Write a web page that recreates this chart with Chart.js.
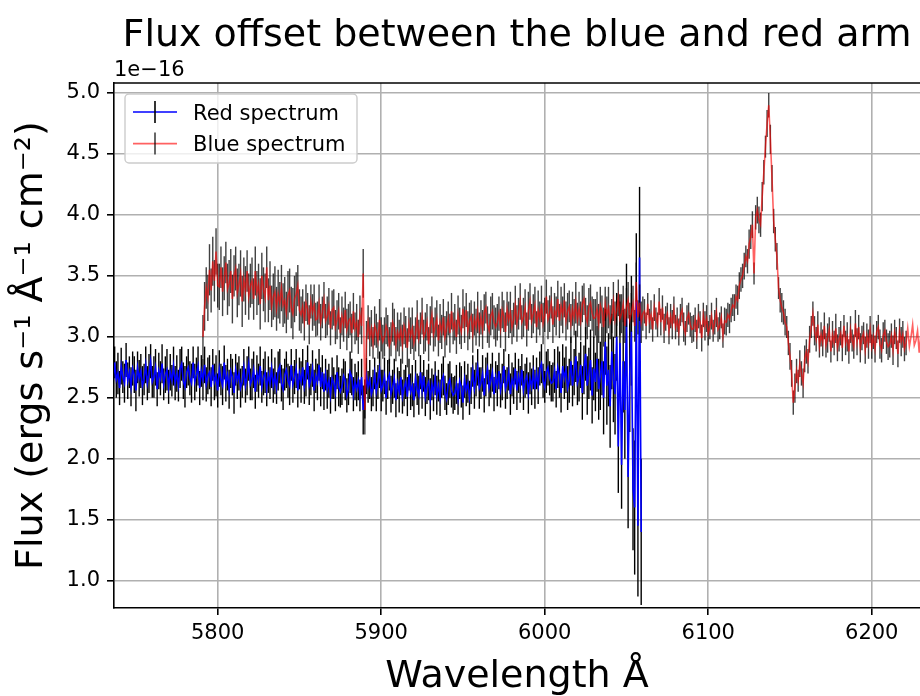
<!DOCTYPE html>
<html>
<head>
<meta charset="utf-8">
<title>Flux offset between the blue and red arm</title>
<script src="https://cdn.jsdelivr.net/npm/chart.js@4.4.1/dist/chart.umd.min.js"></script>
<style>
  html, body { margin: 0; padding: 0; background: #fff; overflow: hidden; }
  #wrap { width: 920px; height: 696px; position: relative; }
</style>
</head>
<body>
<div id="wrap"><canvas id="spectrum"></canvas></div>
<script>
// Both arms are resampled onto a 1 Å wavelength grid
const gridStep = 1;
const redArmStart = 5735;
const blueArmStart = 5791;

// Flux in units of 1e-16 ergs s^-1 Å^-1 cm^-2, ten pixels per row
const redArmFlux = [
  2.73, 2.61, 2.79, 2.65, 2.70, 2.58, 2.76, 2.67, 2.62, 2.81, // 5735
  2.64, 2.71, 2.59, 2.74, 2.69, 2.56, 2.75, 2.66, 2.72, 2.60,
  2.65, 2.77, 2.62, 2.70, 2.80, 2.63, 2.67, 2.75, 2.57, 2.72,
  2.66, 2.78, 2.61, 2.69, 2.73, 2.59, 2.71, 2.64, 2.76, 2.62,
  2.70, 2.60, 2.74, 2.78, 2.64, 2.59, 2.71, 2.75, 2.66, 2.62,
  2.79, 2.63, 2.69, 2.76, 2.58, 2.72, 2.65, 2.77, 2.61, 2.68,
  2.71, 2.59, 2.77, 2.63, 2.68, 2.56, 2.74, 2.65, 2.60, 2.79, // 5795
  2.62, 2.69, 2.57, 2.72, 2.67, 2.54, 2.73, 2.64, 2.70, 2.58,
  2.63, 2.75, 2.60, 2.68, 2.78, 2.61, 2.65, 2.73, 2.55, 2.70,
  2.64, 2.76, 2.59, 2.67, 2.71, 2.57, 2.69, 2.62, 2.74, 2.60,
  2.68, 2.58, 2.72, 2.76, 2.62, 2.57, 2.69, 2.73, 2.64, 2.60,
  2.77, 2.61, 2.67, 2.74, 2.56, 2.70, 2.63, 2.75, 2.59, 2.66,
  2.79, 2.60, 2.65, 2.74, 2.56, 2.68, 2.63, 2.77, 2.59, 2.71,
  2.55, 2.69, 2.57, 2.64, 2.52, 2.66, 2.62, 2.54, 2.71, 2.59, // 5865
  2.55, 2.59, 2.68, 2.64, 2.52, 2.57, 2.71, 2.67, 2.53, 2.63,
  2.57, 2.64, 2.52, 2.67, 2.40, 2.49, 2.68, 2.59, 2.65, 2.53,
  2.58, 2.70, 2.55, 2.63, 2.73, 2.56, 2.60, 2.68, 2.50, 2.65,
  2.69, 2.53, 2.59, 2.66, 2.48, 2.62, 2.55, 2.67, 2.51, 2.58, // 5905
  2.63, 2.51, 2.69, 2.55, 2.60, 2.48, 2.66, 2.57, 2.52, 2.71,
  2.56, 2.68, 2.51, 2.59, 2.63, 2.49, 2.61, 2.54, 2.66, 2.52,
  2.60, 2.50, 2.64, 2.68, 2.54, 2.49, 2.61, 2.65, 2.56, 2.52,
  2.54, 2.61, 2.49, 2.64, 2.59, 2.46, 2.65, 2.56, 2.62, 2.50,
  2.60, 2.72, 2.57, 2.65, 2.75, 2.58, 2.62, 2.70, 2.52, 2.67, // 5955
  2.74, 2.58, 2.64, 2.71, 2.53, 2.67, 2.60, 2.72, 2.56, 2.63,
  2.76, 2.57, 2.62, 2.71, 2.53, 2.65, 2.60, 2.74, 2.56, 2.68,
  2.61, 2.73, 2.56, 2.64, 2.68, 2.54, 2.66, 2.59, 2.71, 2.57,
  2.70, 2.60, 2.74, 2.78, 2.64, 2.59, 2.71, 2.75, 2.66, 2.62, // 5995
  2.63, 2.72, 2.57, 2.75, 2.69, 2.54, 2.76, 2.66, 2.73, 2.58,
  2.64, 2.80, 2.60, 2.71, 2.84, 2.62, 2.67, 2.77, 2.54, 2.73,
  2.86, 2.60, 2.70, 2.81, 2.52, 2.74, 2.63, 2.82, 2.57, 2.68, // 6025
  2.80, 2.50, 2.96, 2.60, 2.73, 2.43, 2.88, 2.65, 2.53, 3.00,
  2.10, 2.95, 1.95, 2.80, 2.40, 3.15, 1.85, 2.70, 3.05, 1.75,
  1.60, 3.30, 1.45, 3.65, 1.40                                // 6055
];
const redArmErr = [
  0.14, 0.16, 0.13, 0.15, 0.17, 0.14, 0.15, 0.13, 0.16, 0.14,
  0.15, 0.13, 0.16, 0.14, 0.15, 0.17, 0.13, 0.15, 0.14, 0.16,
  0.13, 0.15, 0.14, 0.16, 0.14, 0.13, 0.17, 0.15, 0.14, 0.15,
  0.14, 0.16, 0.13, 0.15, 0.17, 0.14, 0.15, 0.13, 0.16, 0.14,
  0.15, 0.13, 0.16, 0.14, 0.15, 0.17, 0.13, 0.15, 0.14, 0.16,
  0.13, 0.15, 0.14, 0.16, 0.14, 0.13, 0.17, 0.15, 0.14, 0.15,
  0.14, 0.16, 0.13, 0.15, 0.17, 0.14, 0.15, 0.13, 0.16, 0.14,
  0.15, 0.13, 0.16, 0.14, 0.15, 0.17, 0.13, 0.15, 0.14, 0.16,
  0.13, 0.15, 0.14, 0.16, 0.14, 0.13, 0.17, 0.15, 0.14, 0.15,
  0.14, 0.16, 0.13, 0.15, 0.17, 0.14, 0.15, 0.13, 0.16, 0.14,
  0.15, 0.13, 0.16, 0.14, 0.15, 0.17, 0.13, 0.15, 0.14, 0.16,
  0.13, 0.15, 0.14, 0.16, 0.14, 0.13, 0.17, 0.15, 0.14, 0.15,
  0.14, 0.16, 0.13, 0.15, 0.17, 0.14, 0.15, 0.13, 0.16, 0.14,
  0.15, 0.13, 0.16, 0.14, 0.15, 0.17, 0.13, 0.15, 0.14, 0.16,
  0.13, 0.15, 0.14, 0.16, 0.14, 0.13, 0.17, 0.15, 0.14, 0.15,
  0.14, 0.16, 0.13, 0.15, 0.20, 0.16, 0.15, 0.13, 0.16, 0.14,
  0.15, 0.13, 0.16, 0.14, 0.15, 0.17, 0.13, 0.15, 0.14, 0.16,
  0.13, 0.15, 0.14, 0.16, 0.14, 0.13, 0.17, 0.15, 0.14, 0.15,
  0.14, 0.16, 0.13, 0.15, 0.17, 0.14, 0.15, 0.13, 0.16, 0.14,
  0.15, 0.13, 0.16, 0.14, 0.15, 0.17, 0.13, 0.15, 0.14, 0.16,
  0.13, 0.15, 0.14, 0.16, 0.14, 0.13, 0.17, 0.15, 0.14, 0.15,
  0.14, 0.16, 0.13, 0.15, 0.17, 0.14, 0.15, 0.13, 0.16, 0.14,
  0.15, 0.13, 0.16, 0.14, 0.15, 0.17, 0.13, 0.15, 0.14, 0.16,
  0.13, 0.15, 0.14, 0.16, 0.14, 0.13, 0.17, 0.15, 0.14, 0.15,
  0.14, 0.16, 0.13, 0.15, 0.17, 0.14, 0.15, 0.13, 0.16, 0.14,
  0.15, 0.13, 0.16, 0.14, 0.15, 0.17, 0.13, 0.15, 0.14, 0.16,
  0.13, 0.15, 0.14, 0.16, 0.14, 0.13, 0.17, 0.15, 0.14, 0.15,
  0.16, 0.18, 0.15, 0.17, 0.19, 0.16, 0.18, 0.17, 0.19, 0.18,
  0.18, 0.20, 0.17, 0.19, 0.21, 0.18, 0.20, 0.19, 0.22, 0.20,
  0.22, 0.24, 0.21, 0.25, 0.23, 0.26, 0.24, 0.27, 0.25, 0.28,
  0.28, 0.30, 0.27, 0.32, 0.30, 0.34, 0.31, 0.35, 0.33, 0.36,
  0.38, 0.40, 0.36, 0.42, 0.40, 0.45, 0.42, 0.48, 0.45, 0.50,
  0.55, 0.55, 0.58, 0.58, 0.60
];

const blueArmFlux = [
  3.00, 3.25, 3.40, 3.32, 3.55, 3.38, 3.62, 3.46, 3.70, 3.42, // 5791
  3.41, 3.57, 3.37, 3.48, 3.61, 3.39, 3.44, 3.54, 3.31, 3.50,
  3.56, 3.36, 3.43, 3.52, 3.29, 3.47, 3.38, 3.54, 3.33, 3.42,
  3.46, 3.31, 3.54, 3.36, 3.43, 3.27, 3.50, 3.39, 3.32, 3.57,
  3.30, 3.42, 3.25, 3.33, 3.37, 3.23, 3.35, 3.28, 3.40, 3.26,
  3.30, 3.20, 3.34, 3.38, 3.24, 3.19, 3.31, 3.35, 3.42, 3.22,
  3.18, 3.25, 3.13, 3.28, 3.23, 3.10, 3.29, 3.20, 3.26, 3.14, // 5851
  3.15, 3.27, 3.12, 3.20, 3.30, 3.13, 3.17, 3.25, 3.07, 3.22,
  3.24, 3.08, 3.14, 3.21, 3.03, 3.17, 3.10, 3.22, 3.06, 3.13,
  3.15, 3.03, 3.21, 3.07, 3.12, 3.00, 3.18, 3.09, 3.52, 2.40,
  2.98, 3.12, 3.00, 3.07, 2.95, 3.09, 3.05, 2.97, 3.14, 3.02,
  2.96, 3.00, 3.09, 3.05, 2.93, 2.98, 3.12, 3.08, 2.94, 3.04, // 5901
  2.99, 3.06, 2.94, 3.09, 3.04, 2.91, 3.10, 3.01, 3.07, 2.95,
  3.02, 3.14, 2.99, 3.07, 3.17, 3.00, 3.04, 3.12, 2.94, 3.09,
  3.18, 3.02, 3.08, 3.15, 2.97, 3.11, 3.04, 3.16, 3.00, 3.07,
  3.15, 3.03, 3.21, 3.07, 3.12, 3.00, 3.18, 3.09, 3.04, 3.23,
  3.10, 3.22, 3.05, 3.13, 3.17, 3.03, 3.15, 3.08, 3.20, 3.06, // 5951
  3.16, 3.06, 3.20, 3.24, 3.10, 3.05, 3.17, 3.21, 3.12, 3.08,
  3.12, 3.19, 3.07, 3.22, 3.17, 3.04, 3.23, 3.14, 3.20, 3.08,
  3.14, 3.26, 3.11, 3.19, 3.29, 3.12, 3.16, 3.24, 3.06, 3.21,
  3.29, 3.13, 3.19, 3.26, 3.08, 3.22, 3.15, 3.27, 3.11, 3.18,
  3.33, 3.14, 3.19, 3.28, 3.10, 3.22, 3.17, 3.31, 3.13, 3.25, // 6001
  3.18, 3.30, 3.13, 3.21, 3.25, 3.11, 3.23, 3.16, 3.28, 3.14,
  3.23, 3.13, 3.27, 3.31, 3.17, 3.12, 3.24, 3.28, 3.19, 3.15,
  3.16, 3.23, 3.11, 3.26, 3.21, 3.08, 3.27, 3.18, 3.24, 3.12,
  3.17, 3.29, 3.14, 3.22, 3.32, 3.15, 3.19, 3.27, 3.09, 3.24,
  3.30, 3.14, 3.20, 3.27, 3.09, 3.45, 3.16, 3.28, 3.12, 3.19, // 6051
  3.21, 3.09, 3.27, 3.13, 3.18, 3.06, 3.24, 3.15, 3.10, 3.29,
  3.12, 3.24, 3.07, 3.15, 3.19, 3.05, 3.17, 3.10, 3.22, 3.08,
  3.14, 3.04, 3.18, 3.22, 3.08, 3.03, 3.15, 3.19, 3.10, 3.06,
  3.07, 3.14, 3.02, 3.17, 3.12, 2.99, 3.18, 3.09, 3.15, 3.03,
  3.08, 3.17, 3.05, 3.12, 3.20, 3.06, 3.09, 3.16, 3.01, 3.13, // 6101
  3.12, 3.18, 3.15, 3.22, 3.26, 3.24, 3.33, 3.30, 3.42, 3.47,
  3.50, 3.58, 3.66, 3.62, 3.76, 3.82, 3.92, 3.52, 3.98, 4.04,
  3.96, 3.92, 4.15, 4.35, 4.56, 4.75, 4.90, 4.62, 4.30, 3.95, // 6131
  3.80, 3.66, 3.40, 3.30, 3.24, 3.20, 3.12, 3.08, 2.95, 2.84,
  2.70, 2.46, 2.58, 2.72, 2.64, 2.78, 2.70, 2.62, 2.82, 2.88,
  2.80, 2.98, 3.08, 3.19, 3.05, 2.98, 3.10, 2.92, 3.02, 2.95,
  3.09, 2.93, 2.99, 3.06, 2.88, 3.02, 2.95, 3.07, 2.91, 2.98, // 6171
  3.03, 2.91, 3.09, 2.95, 3.00, 2.88, 3.06, 2.97, 2.92, 3.11,
  2.96, 3.08, 2.91, 2.99, 3.03, 2.89, 3.01, 2.94, 3.06, 2.92,
  3.00, 2.90, 3.04, 3.08, 2.94, 2.89, 3.01, 3.05, 2.96, 2.92,
  2.94, 3.01, 2.89, 3.04, 2.99, 2.86, 3.05, 2.96, 3.02, 2.90,
  2.95, 3.07, 2.92, 3.00, 3.10, 2.93, 2.97, 3.05, 2.87, 3.02,
  2.99
];
const blueArmErr = [
  0.18, 0.20, 0.17, 0.19, 0.21, 0.18, 0.20, 0.17, 0.19, 0.18,
  0.19, 0.17, 0.20, 0.18, 0.17, 0.21, 0.19, 0.18, 0.20, 0.17,
  0.18, 0.20, 0.17, 0.19, 0.21, 0.18, 0.20, 0.17, 0.19, 0.18,
  0.19, 0.17, 0.20, 0.18, 0.17, 0.21, 0.19, 0.18, 0.20, 0.17,
  0.18, 0.20, 0.17, 0.19, 0.21, 0.18, 0.20, 0.17, 0.19, 0.18,
  0.19, 0.17, 0.20, 0.18, 0.17, 0.21, 0.19, 0.18, 0.17, 0.17,
  0.15, 0.14, 0.16, 0.15, 0.13, 0.16, 0.14, 0.15, 0.17, 0.14,
  0.14, 0.16, 0.15, 0.13, 0.15, 0.14, 0.16, 0.15, 0.14, 0.16,
  0.15, 0.14, 0.16, 0.15, 0.13, 0.16, 0.14, 0.15, 0.17, 0.14,
  0.14, 0.16, 0.15, 0.13, 0.15, 0.14, 0.16, 0.15, 0.20, 0.20,
  0.15, 0.14, 0.16, 0.15, 0.13, 0.16, 0.14, 0.15, 0.17, 0.14,
  0.14, 0.16, 0.15, 0.13, 0.15, 0.14, 0.16, 0.15, 0.14, 0.16,
  0.15, 0.14, 0.16, 0.15, 0.13, 0.16, 0.14, 0.15, 0.17, 0.14,
  0.14, 0.16, 0.15, 0.13, 0.15, 0.14, 0.16, 0.15, 0.14, 0.16,
  0.15, 0.14, 0.16, 0.15, 0.13, 0.16, 0.14, 0.15, 0.17, 0.14,
  0.14, 0.16, 0.15, 0.13, 0.15, 0.14, 0.16, 0.15, 0.14, 0.16,
  0.15, 0.14, 0.16, 0.15, 0.13, 0.16, 0.14, 0.15, 0.17, 0.14,
  0.14, 0.16, 0.15, 0.13, 0.15, 0.14, 0.16, 0.15, 0.14, 0.16,
  0.15, 0.14, 0.16, 0.15, 0.13, 0.16, 0.14, 0.15, 0.17, 0.14,
  0.14, 0.16, 0.15, 0.13, 0.15, 0.14, 0.16, 0.15, 0.14, 0.16,
  0.15, 0.14, 0.16, 0.15, 0.13, 0.16, 0.14, 0.15, 0.17, 0.14,
  0.14, 0.16, 0.15, 0.13, 0.15, 0.14, 0.16, 0.15, 0.14, 0.16,
  0.15, 0.14, 0.16, 0.15, 0.13, 0.16, 0.14, 0.15, 0.17, 0.14,
  0.14, 0.16, 0.15, 0.13, 0.15, 0.14, 0.16, 0.15, 0.14, 0.16,
  0.15, 0.14, 0.16, 0.15, 0.13, 0.16, 0.14, 0.15, 0.17, 0.14,
  0.14, 0.16, 0.15, 0.13, 0.15, 0.14, 0.16, 0.15, 0.14, 0.16,
  0.15, 0.14, 0.16, 0.15, 0.13, 0.16, 0.14, 0.15, 0.17, 0.14,
  0.10, 0.11, 0.09, 0.10, 0.12, 0.10, 0.11, 0.09, 0.10, 0.11,
  0.11, 0.10, 0.12, 0.10, 0.09, 0.11, 0.10, 0.12, 0.11, 0.10,
  0.10, 0.11, 0.09, 0.10, 0.12, 0.10, 0.11, 0.09, 0.10, 0.11,
  0.11, 0.10, 0.12, 0.10, 0.09, 0.11, 0.10, 0.12, 0.11, 0.10,
  0.10, 0.11, 0.09, 0.10, 0.12, 0.10, 0.11, 0.09, 0.10, 0.11,
  0.11, 0.10, 0.12, 0.10, 0.09, 0.11, 0.10, 0.12, 0.11, 0.10,
  0.10, 0.11, 0.09, 0.10, 0.12, 0.10, 0.11, 0.09, 0.10, 0.11,
  0.11, 0.10, 0.12, 0.10, 0.09, 0.11, 0.10, 0.12, 0.11, 0.10,
  0.10, 0.11, 0.09, 0.10, 0.12, 0.10, 0.11, 0.09, 0.10, 0.11,
  0.11, 0.10, 0.12, 0.10, 0.09, 0.11, 0.10, 0.12, 0.11, 0.10,
  0.10, 0.11, 0.09, 0.10, 0.12, 0.10, 0.11, 0.09, 0.10, 0.11,
  0.11, 0.10, 0.12, 0.10, 0.09, 0.11, 0.10, 0.12, 0.11, 0.10,
  0.10, 0.11, 0.09, 0.10, 0.12, 0.10, 0.11, 0.09, 0.10, 0.11,
  0.11, 0.10, 0.12, 0.10, 0.09, 0.11, 0.10, 0.12, 0.11, 0.10,
  0.10, 0.11, 0.09, 0.10, 0.12, 0.10, 0.11, 0.09, 0.10, 0.11,
  0.11, 0.10, 0.12, 0.10, 0.09, 0.11, 0.10, 0.12, 0.11, 0.10,
  0.10
];

const xTicks = [5800, 5900, 6000, 6100, 6200];
const yTicks = [1.0, 1.5, 2.0, 2.5, 3.0, 3.5, 4.0, 4.5, 5.0];
const xRange = [5736.6, 6229.5];
const yRange = [0.776, 5.082];

const titleText = "Flux offset between the blue and red arm";
const fontFamily = "'DejaVu Sans', 'Liberation Sans', sans-serif";

function toPoints(start, flux) {
  return flux.map((y, i) => ({ x: start + i * gridStep, y: y }));
}

// Vertical error bars, drawn just underneath each dataset's own line
const errorBars = {
  id: "errorBars",
  beforeDatasetDraw(chart, args) {
    const ds = chart.data.datasets[args.index];
    if (!ds.errors) return;
    const { ctx, chartArea, scales } = chart;
    ctx.save();
    ctx.beginPath();
    ctx.rect(chartArea.left, chartArea.top, chartArea.right - chartArea.left, chartArea.bottom - chartArea.top);
    ctx.clip();
    ctx.strokeStyle = ds.errorColor;
    ctx.lineWidth = 1.4;
    ds.data.forEach((p, i) => {
      const px = scales.x.getPixelForValue(p.x);
      ctx.beginPath();
      ctx.moveTo(px, scales.y.getPixelForValue(p.y - ds.errors[i]));
      ctx.lineTo(px, scales.y.getPixelForValue(p.y + ds.errors[i]));
      ctx.stroke();
    });
    ctx.restore();
  },
};

// Top spine, title, exponent label and the errorbar-style legend
const frame = {
  id: "frame",
  afterDraw(chart) {
    const { ctx, chartArea } = chart;
    ctx.save();
    ctx.strokeStyle = "#000";
    ctx.lineWidth = 1.6;
    ctx.beginPath();
    ctx.moveTo(chartArea.left - 0.8, chartArea.top);
    ctx.lineTo(chartArea.right, chartArea.top);
    ctx.stroke();

    ctx.fillStyle = "#000";
    ctx.textBaseline = "alphabetic";
    ctx.font = "38px " + fontFamily;
    ctx.textAlign = "center";
    ctx.fillText(titleText, (chartArea.left + chartArea.right) / 2, 46);

    ctx.font = "21px " + fontFamily;
    ctx.textAlign = "left";
    ctx.fillText("1e\u221216", chartArea.left, chartArea.top - 7);

    // legend box
    const bx = chartArea.left + 11, by = chartArea.top + 11, bw = 232, bh = 69, r = 4;
    ctx.beginPath();
    ctx.roundRect(bx, by, bw, bh, r);
    ctx.fillStyle = "rgba(255,255,255,0.8)";
    ctx.fill();
    ctx.strokeStyle = "#cccccc";
    ctx.lineWidth = 1.4;
    ctx.stroke();

    chart.data.datasets.forEach((ds, i) => {
      const rowY = by + 18 + i * 31.6;
      ctx.lineWidth = 1.6;
      ctx.strokeStyle = ds.borderColor;
      ctx.beginPath();
      ctx.moveTo(bx + 8, rowY);
      ctx.lineTo(bx + 52, rowY);
      ctx.stroke();
      ctx.strokeStyle = ds.errorColor;
      ctx.beginPath();
      ctx.moveTo(bx + 30, rowY - 11);
      ctx.lineTo(bx + 30, rowY + 11);
      ctx.stroke();
      ctx.fillStyle = "#000";
      ctx.fillText(ds.label, bx + 68, rowY + 7.5);
    });
    ctx.restore();
  },
};

const tickFont = { family: fontFamily, size: 21 };
const labelFont = { family: fontFamily, size: 38, lineHeight: 1 };
const gridStyle = {
  color: "#b0b0b0",
  lineWidth: 1.6,
  tickColor: "#000",
  tickWidth: 1.6,
  tickLength: 7,
};
const borderStyle = { color: "#000", width: 1.6 };

new Chart(document.getElementById("spectrum"), {
  type: "scatter",
  data: {
    datasets: [
      {
        label: "Red spectrum",
        data: toPoints(redArmStart, redArmFlux),
        errors: redArmErr,
        errorColor: "#000000",
        borderColor: "#0000ff",
        borderWidth: 1.6,
        showLine: true,
        pointRadius: 0,
        order: 2,
      },
      {
        label: "Blue spectrum",
        data: toPoints(blueArmStart, blueArmFlux),
        errors: blueArmErr,
        errorColor: "rgba(0,0,0,0.75)",
        borderColor: "rgba(255,0,0,0.62)",
        borderWidth: 1.6,
        showLine: true,
        pointRadius: 0,
        order: 1,
      },
    ],
  },
  options: {
    responsive: true,
    maintainAspectRatio: false,
    animation: false,
    events: [],
    layout: { padding: { top: 83, left: 0, right: 0, bottom: 0 } },
    plugins: {
      legend: { display: false },
      tooltip: { enabled: false },
      title: { display: false },
    },
    scales: {
      x: {
        type: "linear",
        min: xRange[0],
        max: xRange[1],
        afterBuildTicks: (scale) => { scale.ticks = xTicks.map((v) => ({ value: v })); },
        afterFit: (scale) => { scale.height = 88; },
        ticks: {
          color: "#000",
          font: tickFont,
          padding: 6,
          maxRotation: 0,
          autoSkip: false,
          callback: (v) => String(v),
        },
        grid: gridStyle,
        border: borderStyle,
        title: {
          display: true,
          text: "Wavelength Å",
          color: "#000",
          font: labelFont,
          padding: { top: 0, bottom: 0 },
        },
      },
      y: {
        type: "linear",
        min: yRange[0],
        max: yRange[1],
        afterBuildTicks: (scale) => { scale.ticks = yTicks.map((v) => ({ value: v })); },
        afterFit: (scale) => { scale.width = 114; },
        ticks: { color: "#000", font: tickFont, padding: 7, callback: (v) => v.toFixed(1) },
        grid: gridStyle,
        border: borderStyle,
        title: {
          display: true,
          text: "Flux (ergs s⁻¹ Å⁻¹ cm⁻²)",
          color: "#000",
          font: labelFont,
          padding: { top: 13, bottom: 0 },
        },
      },
    },
  },
  plugins: [errorBars, frame],
});
</script>
</body>
</html>
